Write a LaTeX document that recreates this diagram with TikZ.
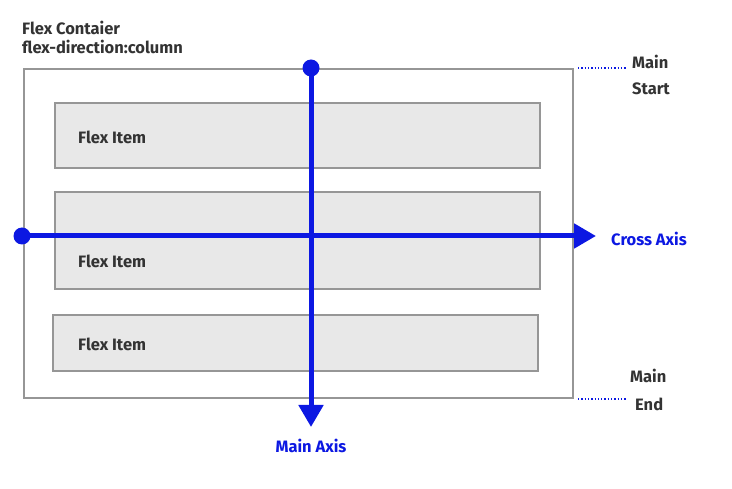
\documentclass[tikz,border=0pt]{standalone}
\usepackage{fontspec}
\setmainfont{Fira Sans}
\usetikzlibrary{arrows.meta}
\definecolor{axisblue}{RGB}{12,24,226}
\definecolor{boxgray}{RGB}{150,150,150}
\definecolor{itemfill}{RGB}{232,232,232}
\definecolor{textgray}{RGB}{51,51,51}
\tikzset{
	item/.style = {draw = boxgray, fill = itemfill, line width = 1.5pt},
	label/.style = {font = \fontsize{16.5}{19}\selectfont\bfseries, text = textgray, inner sep = 0pt},
	bluelabel/.style = {label, text = axisblue},
	axis/.style = {draw = axisblue, line width = 5pt, -{Triangle[length = 22pt, width = 24pt]}},
	dot/.style = {circle, fill = axisblue, inner sep = 0pt, minimum size = 17pt},
	guide/.style = {draw = axisblue, dotted, line width = 1.3pt}
}
\begin{document}
\begin{tikzpicture}[x = 1pt, y = -1pt]
		\useasboundingbox (0,0) rectangle (732,489);
		
		\def\axisx{311}
		\def\axisy{236}
		
		\node[label, anchor = base west] (title) at (22,35) {Flex Contaier};
		\node[label, anchor = base west] (direction) at (22,54) {flex-direction:column};
		
		\draw[boxgray, line width = 1.5pt] (24,69) rectangle (573,398);
		
		\draw[item] (55,103) rectangle (540,168);
		\draw[item] (55,192) rectangle (540,289);
		\draw[item] (53,315) rectangle (538,371);
		\node[label, anchor = west] (first) at (78,137) {Flex Item};
		\node[label, anchor = west] (second) at (78,261) {Flex Item};
		\node[label, anchor = west] (third) at (78,344) {Flex Item};
		
		\node[dot] (crossdot) at (22,\axisy) {};
		\coordinate (crosstip) at (596,\axisy);
		\node[dot] (maindot) at (\axisx,68) {};
		\coordinate (maintip) at (\axisx,427);
		
		\draw[axis] (crossdot.center) -- (crosstip);
		\draw[axis] (maindot.center) -- (maintip);
		
		\node[bluelabel, anchor = west] (cross) at (611,239) {Cross Axis};
		\node[bluelabel] (main) at (\axisx,446) {Main Axis};
		
		\coordinate (startline) at (578,68);
		\coordinate (endline) at (578,399);
		\draw[guide] (startline) -- ++(48,0);
		\draw[guide] (endline) -- ++(48,0);
		\node[label, anchor = west] (startone) at (632,62) {Main};
		\node[label, anchor = west] (starttwo) at (632,89) {Start};
		\node[label, anchor = west] (endone) at (630,376) {Main};
		\node[label, anchor = west] (endtwo) at (635,404) {End};
	\end{tikzpicture}
\end{document}
